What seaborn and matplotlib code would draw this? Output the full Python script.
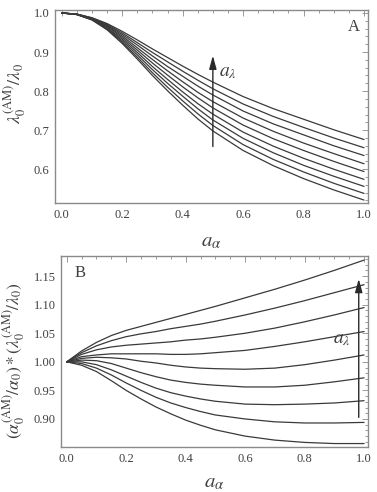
import numpy as np
import pandas as pd
import matplotlib
matplotlib.use("Agg")
import matplotlib.pyplot as plt
from matplotlib.ticker import MultipleLocator, FormatStrFormatter
import seaborn as sns

# panel A: lambda0^(AM)/lambda0 vs a_alpha, 9 curves (bottom -> top)
a_A = [0, 0.05, 0.1, 0.15, 0.2, 0.25, 0.3, 0.35, 0.4, 0.45, 0.5, 0.6, 0.7, 0.8, 0.9, 1.0]
lam_0 = [1.000, 0.996, 0.982, 0.957, 0.922, 0.882, 0.840, 0.801, 0.764, 0.729, 0.698, 0.648, 0.609, 0.576, 0.547, 0.521]
lam_1 = [1.000, 0.996, 0.983, 0.959, 0.925, 0.887, 0.847, 0.810, 0.775, 0.742, 0.712, 0.663, 0.625, 0.593, 0.564, 0.538]
lam_2 = [1.000, 0.996, 0.983, 0.961, 0.929, 0.893, 0.855, 0.820, 0.787, 0.755, 0.726, 0.679, 0.642, 0.610, 0.582, 0.556]
lam_3 = [1.000, 0.996, 0.984, 0.962, 0.933, 0.899, 0.863, 0.830, 0.798, 0.768, 0.741, 0.695, 0.659, 0.628, 0.600, 0.574]
lam_4 = [1.000, 0.997, 0.985, 0.965, 0.937, 0.905, 0.872, 0.841, 0.811, 0.783, 0.757, 0.713, 0.678, 0.648, 0.620, 0.594]
lam_5 = [1.000, 0.997, 0.986, 0.967, 0.941, 0.911, 0.881, 0.852, 0.824, 0.797, 0.773, 0.731, 0.697, 0.667, 0.640, 0.614]
lam_6 = [1.000, 0.997, 0.986, 0.969, 0.945, 0.918, 0.890, 0.863, 0.838, 0.813, 0.790, 0.749, 0.716, 0.688, 0.660, 0.635]
lam_7 = [1.000, 0.997, 0.987, 0.971, 0.949, 0.924, 0.899, 0.875, 0.851, 0.828, 0.806, 0.767, 0.735, 0.707, 0.680, 0.655]
lam_8 = [1.000, 0.997, 0.988, 0.973, 0.953, 0.931, 0.908, 0.886, 0.864, 0.843, 0.823, 0.786, 0.755, 0.728, 0.701, 0.676]

# panel B: product ratio vs a_alpha, 9 curves (bottom -> top)
a_B = [0, 0.05, 0.1, 0.15, 0.2, 0.25, 0.3, 0.35, 0.4, 0.45, 0.5, 0.6, 0.7, 0.8, 0.9, 1.0]
prod_0 = [1.000, 0.994, 0.983, 0.967, 0.950, 0.935, 0.921, 0.909, 0.898, 0.889, 0.881, 0.870, 0.863, 0.859, 0.857, 0.857]
prod_1 = [1.000, 0.997, 0.989, 0.977, 0.963, 0.950, 0.938, 0.928, 0.920, 0.913, 0.907, 0.900, 0.895, 0.893, 0.893, 0.894]
prod_2 = [1.000, 1.000, 0.995, 0.986, 0.975, 0.964, 0.954, 0.946, 0.940, 0.935, 0.931, 0.926, 0.925, 0.926, 0.928, 0.932]
prod_3 = [1.000, 1.003, 1.002, 0.997, 0.989, 0.981, 0.974, 0.968, 0.964, 0.961, 0.959, 0.956, 0.956, 0.959, 0.965, 0.972]
prod_4 = [1.000, 1.006, 1.008, 1.007, 1.005, 1.001, 0.998, 0.994, 0.991, 0.989, 0.988, 0.987, 0.989, 0.995, 1.003, 1.012]
prod_5 = [1.000, 1.009, 1.012, 1.014, 1.014, 1.014, 1.014, 1.013, 1.013, 1.014, 1.016, 1.020, 1.027, 1.035, 1.044, 1.053]
prod_6 = [1.000, 1.013, 1.021, 1.026, 1.029, 1.031, 1.033, 1.035, 1.038, 1.040, 1.043, 1.050, 1.059, 1.070, 1.082, 1.095]
prod_7 = [1.000, 1.016, 1.028, 1.037, 1.044, 1.049, 1.053, 1.058, 1.062, 1.066, 1.071, 1.082, 1.094, 1.107, 1.121, 1.135]
prod_8 = [1.000, 1.019, 1.034, 1.046, 1.055, 1.062, 1.069, 1.076, 1.083, 1.090, 1.097, 1.112, 1.127, 1.143, 1.160, 1.178]

lam_curves = [lam_0, lam_1, lam_2, lam_3, lam_4, lam_5, lam_6, lam_7, lam_8]
prod_curves = [prod_0, prod_1, prod_2, prod_3, prod_4, prod_5, prod_6, prod_7, prod_8]


def to_long(xs, curves):
    rows = []
    for k, c in enumerate(curves):
        for x, v in zip(xs, c):
            rows.append({"a": x, "v": v, "curve": k})
    return pd.DataFrame(rows)


dfA = to_long(a_A, lam_curves)
dfB = to_long(a_B, prod_curves)

sns.set_theme(style="white")
plt.rcParams["font.family"] = ["Liberation Serif", "DejaVu Serif"]
plt.rcParams["mathtext.fontset"] = "stix"

line_col = "#3a3a3a"
frame_col = "#8a8a8a"
text_col = "#404040"

fig = plt.figure(figsize=(3.77, 4.92), dpi=100)
axA = fig.add_axes([0.146, 0.587, 0.830, 0.393])
axB = fig.add_axes([0.162, 0.0915, 0.814, 0.388])


def style_axes(ax, ymaj, ymin, yfmt):
    ax.xaxis.set_major_locator(MultipleLocator(0.2))
    ax.xaxis.set_minor_locator(MultipleLocator(0.05))
    ax.yaxis.set_major_locator(MultipleLocator(ymaj))
    ax.yaxis.set_minor_locator(MultipleLocator(ymin))
    ax.xaxis.set_major_formatter(FormatStrFormatter("%.1f"))
    ax.yaxis.set_major_formatter(FormatStrFormatter(yfmt))
    ax.tick_params(which="both", direction="in", top=True, right=True,
                   color=frame_col, width=0.6, labelsize=9, labelcolor=text_col)
    ax.tick_params(which="major", length=4, pad=4)
    ax.tick_params(which="minor", length=2)
    for s in ax.spines.values():
        s.set_color(frame_col)
        s.set_linewidth(1.0)


sns.lineplot(data=dfA, x="a", y="v", units="curve", estimator=None,
             color=line_col, lw=0.9, ax=axA)
axA.set_xlim(-0.022, 1.013)
axA.set_ylim(0.513, 1.008)
style_axes(axA, 0.1, 0.02, "%.1f")
axA.set_xlabel(r"$a_{\alpha}$", fontsize=15, color=text_col)
axA.xaxis.set_label_coords(0.5, -0.15)
axA.set_ylabel(r"$\lambda_0^{(\mathrm{AM})}/\lambda_0$", fontsize=13, color=text_col)
axA.yaxis.set_label_coords(-0.082, 0.567)
axA.annotate("", xy=(0.5, 0.898), xytext=(0.5, 0.651),
             arrowprops=dict(arrowstyle="-|>,head_length=0.8,head_width=0.22",
                             color="#2a2a2a", lw=1.0, mutation_scale=10))
axA.text(0.52, 0.848, r"$a_{\lambda}$", fontsize=14, color=text_col,
         ha="left", va="center")
axA.text(0.965, 0.965, "A", fontsize=12, color=text_col, ha="center", va="center")

sns.lineplot(data=dfB, x="a", y="v", units="curve", estimator=None,
             color=line_col, lw=0.9, ax=axB)
axB.set_xlim(-0.019, 1.013)
axB.set_ylim(0.851, 1.185)
style_axes(axB, 0.05, 0.01, "%.2f")
axB.set_xlabel(r"$a_{\alpha}$", fontsize=15, color=text_col)
axB.xaxis.set_label_coords(0.5, -0.14)
axB.set_ylabel(r"$(\alpha_0^{(\mathrm{AM})}/\alpha_0)*(\lambda_0^{(\mathrm{AM})}/\lambda_0)$",
               fontsize=12.5, color=text_col)
axB.yaxis.set_label_coords(-0.11, 0.45)
axB.annotate("", xy=(0.982, 1.150), xytext=(0.982, 0.898),
             arrowprops=dict(arrowstyle="-|>,head_length=0.8,head_width=0.22",
                             color="#2a2a2a", lw=1.0, mutation_scale=10))
axB.text(0.955, 1.039, r"$a_{\lambda}$", fontsize=14, color=text_col,
         ha="right", va="center")
axB.text(0.045, 1.155, "B", fontsize=12, color=text_col, ha="center", va="center")

fig.savefig("out.png", dpi=100)
